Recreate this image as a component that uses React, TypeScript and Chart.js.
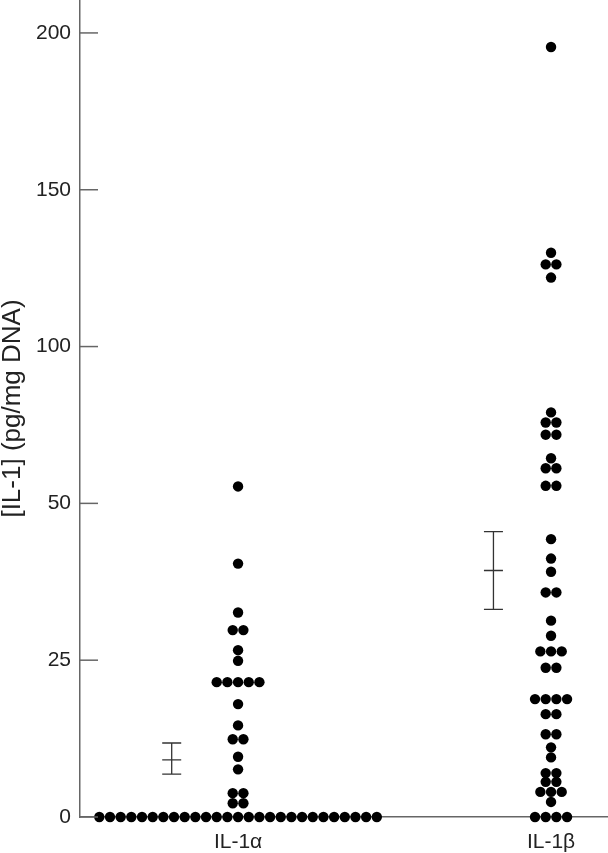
import React, { useEffect, useRef } from "react";
import { Chart, registerables, LinearScale } from "chart.js";

// ---- data ----
const categories = ["IL-1α", "IL-1β"];
const yTickValues = [0, 25, 50, 100, 150, 200];

const il1Alpha = [
  55.4, 40.4, 32.6, 29.8, 29.8, 26.6, 24.9,
  21.5, 21.5, 21.5, 21.5, 21.5,
  18.0, 14.6, 12.4, 12.4, 9.6, 7.6, 3.8, 3.8, 2.2, 2.2,
  0, 0, 0, 0, 0, 0, 0, 0, 0, 0, 0, 0, 0, 0, 0, 0, 0, 0, 0, 0, 0, 0, 0, 0, 0, 0, 0,
];
const il1Beta = [
  195.5, 129.9, 126.2, 126.2, 122.0,
  79.0, 75.8, 75.8, 71.9, 71.9,
  64.4, 61.2, 61.2, 55.6, 55.6,
  44.3, 41.2, 39.1, 35.8, 35.8, 31.3, 28.9,
  26.4, 26.4, 26.4, 23.8, 23.8,
  18.8, 18.8, 18.8, 18.8, 16.4, 16.4, 13.2, 13.2,
  11.1, 9.5, 7.0, 7.0, 5.6, 5.6, 4.0, 4.0, 4.0, 2.4,
  0, 0, 0, 0,
];
const errMean = [9.1, 39.3];
const errLow = [6.85, 33.1];
const errHigh = [11.8, 45.5];

// ---- broken y axis: 0–50 drawn at double resolution ----
const BREAK = 50;
const fwd = (v: number) => (v <= BREAK ? v * 2 : v + BREAK);
const inv = (d: number) => (d <= 2 * BREAK ? d / 2 : d - BREAK);

class BrokenAxisScale extends LinearScale {
  static id = "brokenAxis";
  static defaults = LinearScale.defaults;
  getPixelForValue(value: number) {
    const a = fwd(this.min as number);
    const b = fwd(this.max as number);
    return this.getPixelForDecimal((fwd(value) - a) / (b - a));
  }
  getValueForPixel(pixel: number) {
    const a = fwd(this.min as number);
    const b = fwd(this.max as number);
    return inv(a + this.getDecimalForPixel(pixel) * (b - a));
  }
}

Chart.register(...registerables, BrokenAxisScale);

// layout constants
const DOT_STEP = 0.0341; // one dot width in x-scale units
const ERR_SHIFT = [-0.212, -0.184];
const AXIS_COLOR = "#666";
const FONT = "'Liberation Sans', Arial, Helvetica, sans-serif";

function swarm(values: number[], center: number) {
  const groups = new Map<number, number>();
  values.forEach((v) => groups.set(v, (groups.get(v) || 0) + 1));
  const pts: { x: number; y: number }[] = [];
  groups.forEach((n, v) => {
    for (let i = 0; i < n; i++) {
      pts.push({ x: center + (i - (n - 1) / 2) * DOT_STEP, y: v });
    }
  });
  return pts;
}

const decorPlugin = {
  id: "decor",
  afterDatasetsDraw(chart: any) {
    const { ctx, chartArea } = chart;
    const xs = chart.scales.x;
    const ys = chart.scales.y;
    ctx.save();
    // inward tick marks on y axis
    ctx.strokeStyle = AXIS_COLOR;
    ctx.lineWidth = 1.5;
    yTickValues.forEach((v) => {
      const py = ys.getPixelForValue(v);
      ctx.beginPath();
      ctx.moveTo(chartArea.left, py);
      ctx.lineTo(chartArea.left + 18, py);
      ctx.stroke();
    });
    // error bars
    ctx.strokeStyle = "#333";
    ctx.lineWidth = 1.3;
    categories.forEach((_, i) => {
      const cx = xs.getPixelForValue(i + 1 + ERR_SHIFT[i]);
      const yl = ys.getPixelForValue(errLow[i]);
      const yh = ys.getPixelForValue(errHigh[i]);
      const ym = ys.getPixelForValue(errMean[i]);
      const hw = 9.5;
      ctx.beginPath();
      ctx.moveTo(cx, yl);
      ctx.lineTo(cx, yh);
      [yl, yh, ym].forEach((py) => {
        ctx.moveTo(cx - hw, py);
        ctx.lineTo(cx + hw, py);
      });
      ctx.stroke();
    });
    ctx.restore();
  },
};

export default function App() {
  const ref = useRef<HTMLCanvasElement>(null);
  useEffect(() => {
    document.body.style.margin = "0";
    const canvas = ref.current;
    if (!canvas) return;
    const chart = new Chart(canvas, {
      type: "scatter",
      data: {
        datasets: [
          {
            label: categories[0],
            data: swarm(il1Alpha, 1),
            backgroundColor: "#000",
            borderColor: "#000",
            pointRadius: 5.2,
            borderWidth: 0,
            clip: false as any,
          },
          {
            label: categories[1],
            data: swarm(il1Beta, 2),
            backgroundColor: "#000",
            borderColor: "#000",
            pointRadius: 5.2,
            borderWidth: 0,
            clip: false as any,
          },
        ],
      },
      options: {
        animation: false,
        responsive: false,
        layout: { padding: 0, autoPadding: false },
        plugins: { legend: { display: false }, tooltip: { enabled: false } },
        scales: {
          x: {
            type: "linear",
            min: 0.495,
            max: 2.182,
            afterFit: (s: any) => {
              s.height = 36;
              s.paddingLeft = 0;
              s.paddingRight = 0;
            },
            afterBuildTicks: (s: any) => {
              s.ticks = categories.map((_, i) => ({ value: i + 1 }));
            },
            grid: { display: false, drawTicks: false },
            border: { display: true, color: AXIS_COLOR, width: 1.5 },
            ticks: {
              autoSkip: false,
              maxRotation: 0,
              padding: 13,
              color: "#222",
              font: { family: FONT, size: 21 },
              callback: (v: any) => categories[Math.round(v) - 1] ?? "",
            },
          },
          y: {
            type: "brokenAxis" as any,
            min: 0,
            max: 210.5,
            afterFit: (s: any) => {
              s.width = 80;
              s.paddingTop = 0;
              s.paddingBottom = 0;
            },
            afterBuildTicks: (s: any) => {
              s.ticks = yTickValues.map((v) => ({ value: v }));
            },
            grid: { display: false, drawTicks: false },
            border: { display: true, color: AXIS_COLOR, width: 1.5 },
            ticks: {
              autoSkip: false,
              padding: 9,
              color: "#222",
              font: { family: FONT, size: 21 },
              callback: (v: any) => String(v),
            },
            title: {
              display: true,
              text: "[IL-1] (pg/mg DNA)",
              color: "#222",
              padding: { top: 0, bottom: 0 },
              font: { family: FONT, size: 26, lineHeight: 1.0 },
            },
          },
        },
      },
      plugins: [decorPlugin],
    });
    return () => chart.destroy();
  }, []);
  return (
    <div style={{ width: 608, height: 853 }}>
      <canvas ref={ref} width={608} height={853} style={{ display: "block", width: 608, height: 853 }} />
    </div>
  );
}
